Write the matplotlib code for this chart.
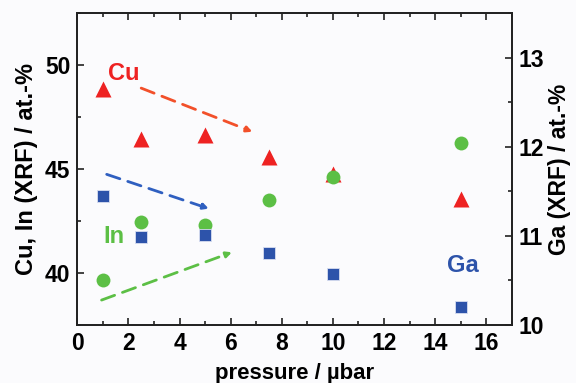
import matplotlib
matplotlib.use("Agg")
import matplotlib.pyplot as plt
from matplotlib.ticker import MultipleLocator

plt.rcParams['font.family'] = ['Liberation Sans', 'DejaVu Sans']
plt.rcParams['font.weight'] = 'bold'

# pressure in µbar
pressure = [1, 2.5, 5, 7.5, 10, 15]
# compositions in at.-%
cu = [48.85, 46.45, 46.65, 45.6, 44.75, 43.55]
indium = [39.65, 42.45, 42.3, 43.5, 44.6, 46.25]
ga = [11.45, 10.99, 11.01, 10.81, 10.57, 10.2]

red = '#ee2222'
green = '#5cbf45'
blue = '#2d53aa'
bg = '#fbfbfd'

fig = plt.figure(figsize=(5.76, 3.83), dpi=100, facecolor=bg)
ax = fig.add_axes([0.1342, 0.1514, 0.7542, 0.8139])
ax.set_facecolor(bg)
ax2 = ax.twinx()

ax.plot(pressure, cu, '^', color=red, ms=11, mec='none', zorder=3)
ax.plot(pressure, indium, 'o', color=green, ms=10, mec='none', zorder=4)
ax2.plot(pressure, ga, 's', color=blue, ms=9, mec='#d8def0', mew=0.6, zorder=5)

ax.set_xlim(0, 17)
ax.set_ylim(37.5, 52.5)
ax2.set_ylim(10, 13.5)

ax.xaxis.set_major_locator(MultipleLocator(2))
ax.xaxis.set_minor_locator(MultipleLocator(1))
ax.yaxis.set_major_locator(MultipleLocator(5))
ax.yaxis.set_minor_locator(MultipleLocator(2.5))
ax2.yaxis.set_major_locator(MultipleLocator(1))
ax2.yaxis.set_minor_locator(MultipleLocator(0.5))

for a in (ax, ax2):
    a.tick_params(which='both', direction='in', labelsize=16.5, width=1.2, color='#222222')
    a.tick_params(which='major', length=5, pad=5)
    a.tick_params(which='minor', length=3)
    for s in a.spines.values():
        s.set_linewidth(1.3)
        s.set_color('#222222')
ax.tick_params(which='both', top=True)
ax2.set_zorder(ax.get_zorder() + 1)
ax2.patch.set_visible(False)

ax.set_xlabel('pressure / µbar', fontsize=16, fontweight='bold', labelpad=6)
ax.set_ylabel('Cu, In (XRF) / at.-%', fontsize=17, fontweight='bold', labelpad=5)
ax2.set_ylabel('Ga (XRF) / at.-%', fontsize=16.5, fontweight='bold', labelpad=3)

# labels
ax.text(1.83, 49.6, 'Cu', color=red, fontsize=17, fontweight='bold', ha='center', va='center')
ax.text(1.45, 41.75, 'In', color=green, fontsize=17, fontweight='bold', ha='center', va='center')
ax.text(15.1, 40.35, 'Ga', color=blue, fontsize=17, fontweight='bold', ha='center', va='center')

# dashed trend arrows
arrows = [
    ((2.5, 48.9), (6.85, 46.8), '#f2502a'),
    ((1.15, 44.75), (5.15, 43.1), '#2f5fc0'),
    ((0.95, 38.7), (6.05, 41.0), green),
]
for start, end, col in arrows:
    ax.annotate('', xy=end, xytext=start,
                arrowprops=dict(arrowstyle='-|>', color=col, lw=2, ls=(0, (5, 3)),
                                mutation_scale=8, shrinkA=0, shrinkB=0))

fig.savefig('out.png', dpi=100, facecolor=bg)
